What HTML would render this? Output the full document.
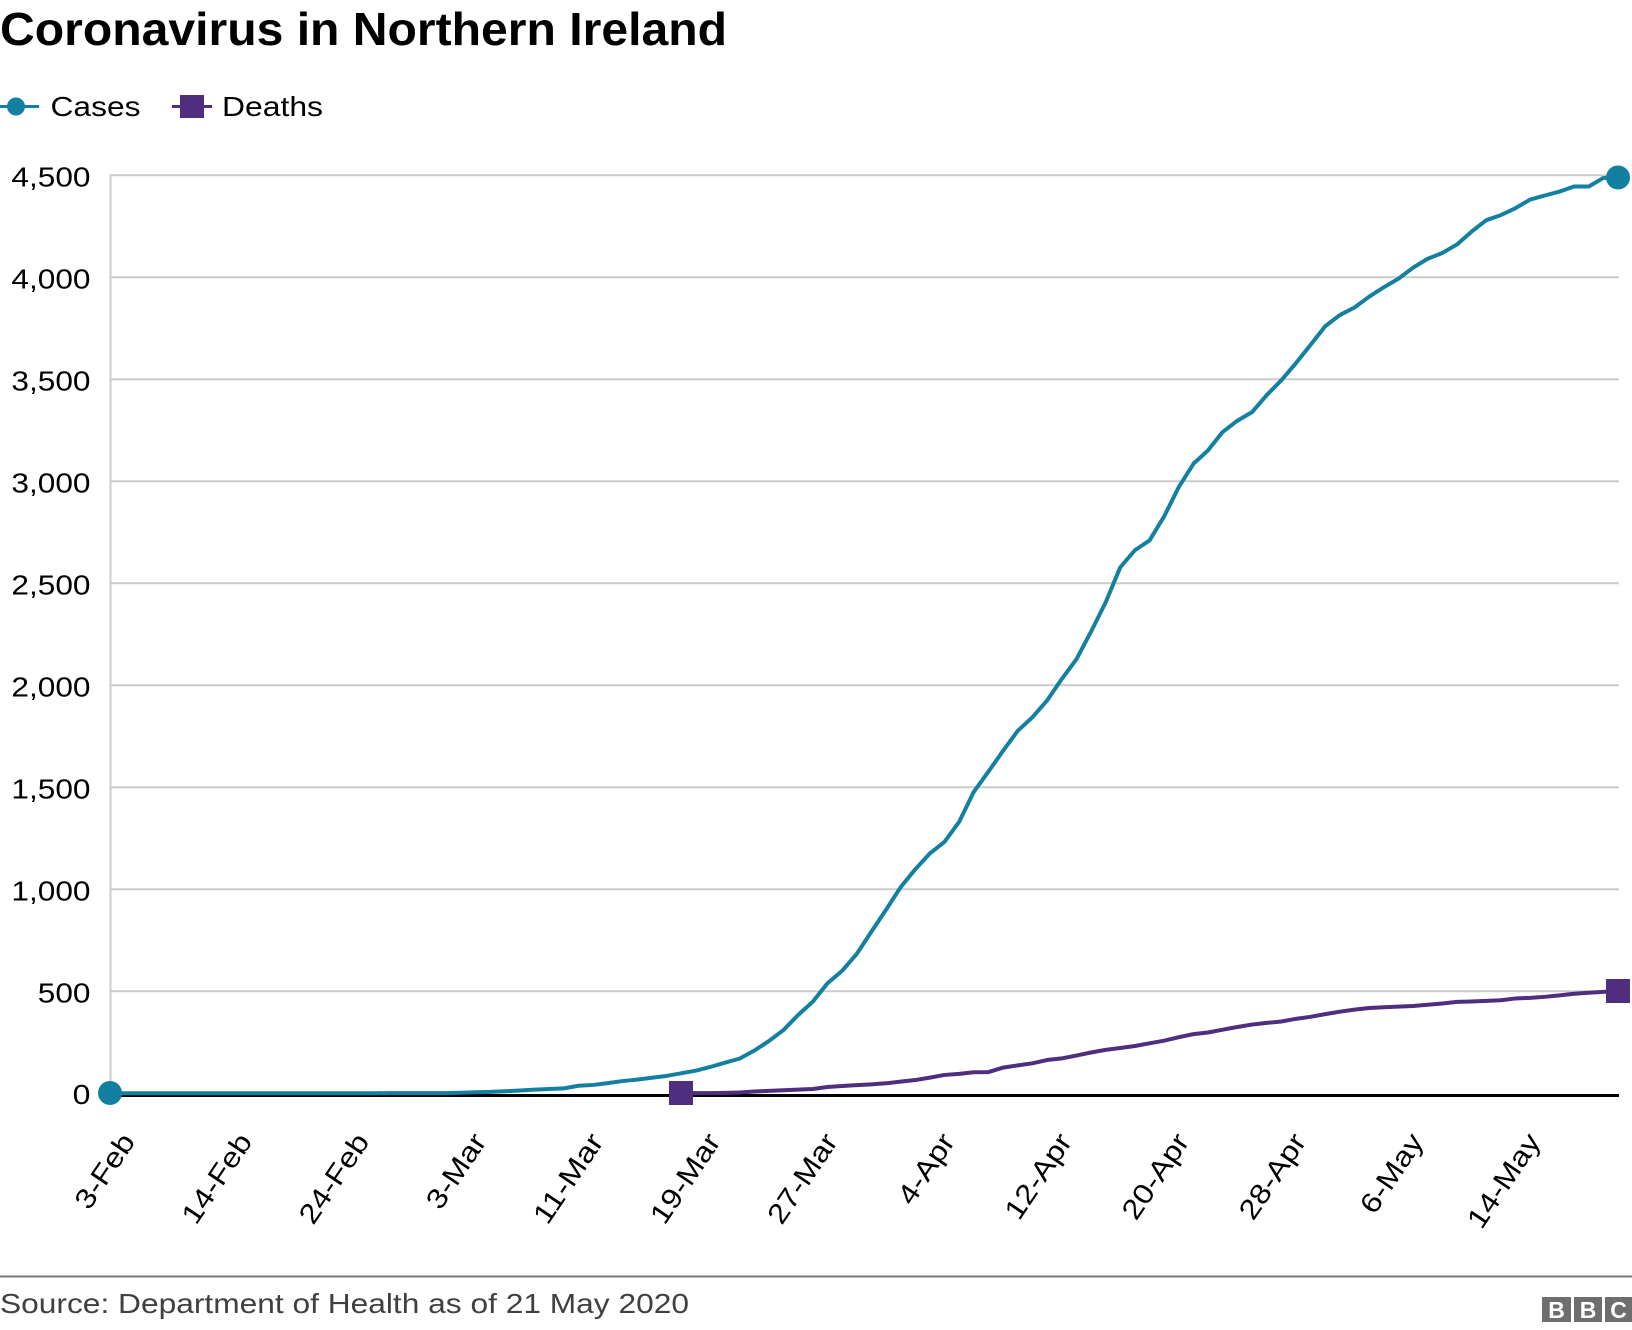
<!DOCTYPE html>
<html><head><meta charset="utf-8"><style>
html,body{margin:0;padding:0;background:#fff;}
svg{display:block;font-family:"Liberation Sans",Arial,sans-serif;}
</style></head><body>
<svg width="1632" height="1330" viewBox="0 0 1632 1330" xmlns="http://www.w3.org/2000/svg">
<rect x="0" y="0" width="1632" height="1330" fill="#fff"/>
<text x="0" y="45" font-size="46.5" font-weight="bold" fill="#000" textLength="727" lengthAdjust="spacingAndGlyphs">Coronavirus in Northern Ireland</text>

<!-- legend -->
<line x1="0" y1="106.5" x2="39" y2="106.5" stroke="#1380A1" stroke-width="3"/>
<circle cx="16" cy="106.5" r="9" fill="#1380A1"/>
<text x="50.5" y="116" font-size="27.5" fill="#000" textLength="90" lengthAdjust="spacingAndGlyphs">Cases</text>
<line x1="172" y1="106.5" x2="212" y2="106.5" stroke="#4f2d7f" stroke-width="3"/>
<rect x="180" y="95" width="24" height="23" fill="#4f2d7f"/>
<text x="222" y="116" font-size="27.5" fill="#000" textLength="101" lengthAdjust="spacingAndGlyphs">Deaths</text>

<!-- gridlines -->
<g stroke="#cccccc" stroke-width="2">
<line x1="110" y1="175.3" x2="1619" y2="175.3"/>
<line x1="110" y1="277.3" x2="1619" y2="277.3"/>
<line x1="110" y1="379.3" x2="1619" y2="379.3"/>
<line x1="110" y1="481.3" x2="1619" y2="481.3"/>
<line x1="110" y1="583.3" x2="1619" y2="583.3"/>
<line x1="110" y1="685.3" x2="1619" y2="685.3"/>
<line x1="110" y1="787.3" x2="1619" y2="787.3"/>
<line x1="110" y1="889.3" x2="1619" y2="889.3"/>
<line x1="110" y1="991.3" x2="1619" y2="991.3"/>
<line x1="110.5" y1="174.3" x2="110.5" y2="1093"/>
</g>

<!-- y labels -->
<g font-size="27.5" fill="#000">
<text x="11.4" y="186.5" textLength="79.1" lengthAdjust="spacingAndGlyphs">4,500</text>
<text x="11.4" y="288.5" textLength="79.1" lengthAdjust="spacingAndGlyphs">4,000</text>
<text x="11.4" y="390.5" textLength="79.1" lengthAdjust="spacingAndGlyphs">3,500</text>
<text x="11.4" y="492.5" textLength="79.1" lengthAdjust="spacingAndGlyphs">3,000</text>
<text x="11.4" y="594.5" textLength="79.1" lengthAdjust="spacingAndGlyphs">2,500</text>
<text x="11.4" y="696.5" textLength="79.1" lengthAdjust="spacingAndGlyphs">2,000</text>
<text x="11.4" y="798.5" textLength="79.1" lengthAdjust="spacingAndGlyphs">1,500</text>
<text x="11.4" y="900.5" textLength="79.1" lengthAdjust="spacingAndGlyphs">1,000</text>
<text x="37.8" y="1002.5" textLength="52.7" lengthAdjust="spacingAndGlyphs">500</text>
<text x="72.6" y="1104" textLength="17.8" lengthAdjust="spacingAndGlyphs">0</text>
</g>

<!-- zero axis -->
<line x1="110" y1="1095.5" x2="1619" y2="1095.5" stroke="#000" stroke-width="3"/>

<!-- series -->
<g transform="translate(110 1093.3) scale(14.641 -0.204)" fill="none" stroke-linejoin="round" stroke-linecap="round">
<polyline vector-effect="non-scaling-stroke" stroke="#1380A1" stroke-width="4" points="0,0 18,0 19,1 23,1 24,3 25,5 26,7 27,10 28,14 29,18 30,21 31,24 32,37 33,41 34,50 35,60 36,67 37,76 38,85 39,98 40,111 41,129 42,150 43,170 44,209 45,256 46,310 47,384 48,449 49,539 50,600 51,683 52,792 53,899 54,1010 55,1098 56,1176 57,1233 58,1331 59,1478 60,1577 61,1679 62,1777 63,1843 64,1925 65,2030 66,2127 67,2262 68,2406 69,2578 70,2662 71,2710 72,2828 73,2972 74,3086 75,3152 76,3242 77,3297 78,3339 79,3422 80,3495 81,3579 82,3669 83,3760 84,3815 85,3852 86,3905 87,3951 88,3993 89,4047 90,4091 91,4119 92,4161 93,4224 94,4280 95,4305 96,4339 97,4381 98,4401 99,4420 100,4445 101,4445 102,4487 103,4490"/>
<polyline vector-effect="non-scaling-stroke" stroke="#4f2d7f" stroke-width="4" points="39,1 40,1 41,1 42,2 43,4 44,9 45,12 46,15 47,18 48,21 49,31 50,36 51,40 52,44 53,49 54,57 55,65 56,77 57,90 58,95 59,103 60,104 61,126 62,137 63,147 64,163 65,171 66,185 67,200 68,213 69,222 70,232 71,245 72,258 73,275 74,290 75,298 76,312 77,325 78,337 79,345 80,352 81,365 82,375 83,388 84,400 85,410 86,418 87,422 88,425 89,428 90,434 91,440 92,448 93,450 94,453 95,456 96,465 97,468 98,473 99,480 100,488 101,493 102,497 103,502"/>
</g>

<!-- markers -->
<circle cx="110" cy="1093" r="12" fill="#1380A1"/>
<circle cx="1618" cy="177.5" r="12" fill="#1380A1"/>
<rect x="669" y="1081" width="24" height="24" fill="#4f2d7f"/>
<rect x="1606" y="979" width="24" height="24" fill="#4f2d7f"/>

<!-- x labels -->
<g font-size="28" fill="#000">
<text transform="translate(136 1141.5) rotate(-56)" x="-84.1" textLength="84.1" lengthAdjust="spacingAndGlyphs">3-Feb</text>
<text transform="translate(253.1 1141.5) rotate(-56)" x="-102" textLength="102" lengthAdjust="spacingAndGlyphs">14-Feb</text>
<text transform="translate(370.3 1141.5) rotate(-56)" x="-102" textLength="102" lengthAdjust="spacingAndGlyphs">24-Feb</text>
<text transform="translate(487.4 1141.5) rotate(-56)" x="-84.1" textLength="84.1" lengthAdjust="spacingAndGlyphs">3-Mar</text>
<text transform="translate(604.5 1141.5) rotate(-56)" x="-102" textLength="102" lengthAdjust="spacingAndGlyphs">11-Mar</text>
<text transform="translate(721.6 1141.5) rotate(-56)" x="-102" textLength="102" lengthAdjust="spacingAndGlyphs">19-Mar</text>
<text transform="translate(838.8 1141.5) rotate(-56)" x="-102" textLength="102" lengthAdjust="spacingAndGlyphs">27-Mar</text>
<text transform="translate(955.9 1141.5) rotate(-56)" x="-78.7" textLength="78.7" lengthAdjust="spacingAndGlyphs">4-Apr</text>
<text transform="translate(1073 1141.5) rotate(-56)" x="-96.6" textLength="96.6" lengthAdjust="spacingAndGlyphs">12-Apr</text>
<text transform="translate(1190.2 1141.5) rotate(-56)" x="-96.6" textLength="96.6" lengthAdjust="spacingAndGlyphs">20-Apr</text>
<text transform="translate(1307.3 1141.5) rotate(-56)" x="-96.6" textLength="96.6" lengthAdjust="spacingAndGlyphs">28-Apr</text>
<text transform="translate(1424.4 1141.5) rotate(-56)" x="-89.5" textLength="89.5" lengthAdjust="spacingAndGlyphs">6-May</text>
<text transform="translate(1541.5 1141.5) rotate(-56)" x="-107.4" textLength="107.4" lengthAdjust="spacingAndGlyphs">14-May</text>
</g>

<!-- footer -->
<line x1="0" y1="1276.5" x2="1632" y2="1276.5" stroke="#777" stroke-width="2"/>
<text x="0" y="1313" font-size="27.5" fill="#404040" textLength="689" lengthAdjust="spacingAndGlyphs">Source: Department of Health as of 21 May 2020</text>
<g>
<rect x="1542" y="1297" width="29" height="25" fill="#6e6e6e"/>
<rect x="1574" y="1297" width="28" height="25" fill="#6e6e6e"/>
<rect x="1605" y="1297" width="27" height="25" fill="#6e6e6e"/>
<g font-size="23" font-weight="bold" fill="#fff" text-anchor="middle">
<text x="1556.5" y="1318">B</text>
<text x="1588" y="1318">B</text>
<text x="1618.5" y="1318">C</text>
</g>
</g>
</svg>
</body></html>
